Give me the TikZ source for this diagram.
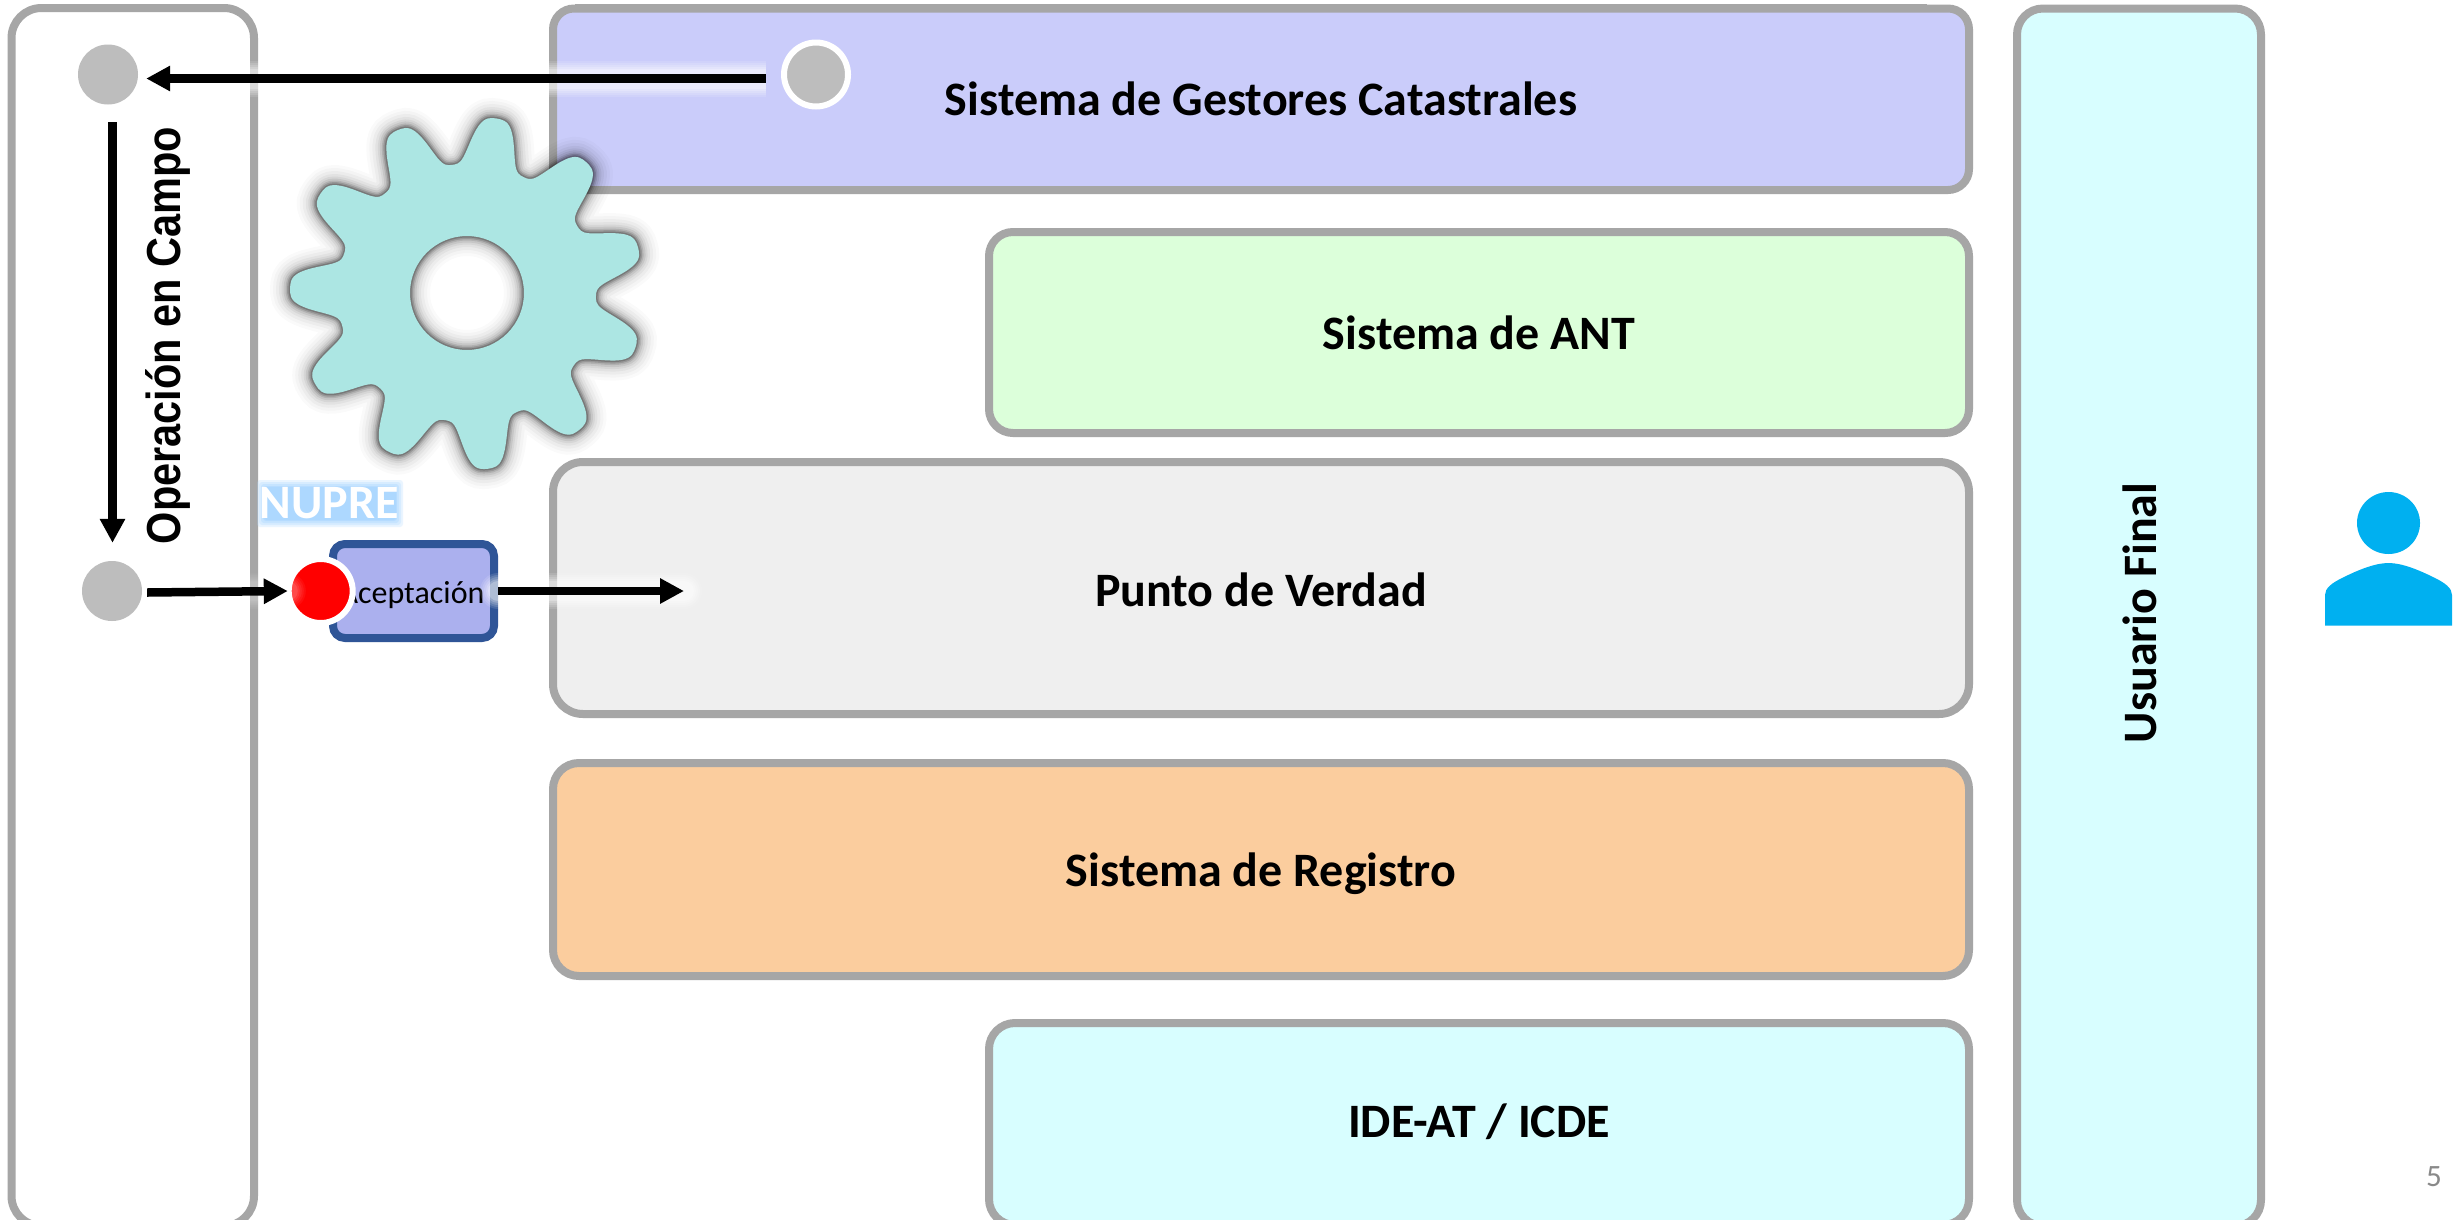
\documentclass[tikz,border=0pt]{standalone}
\usepackage{fontspec}
\setmainfont{Carlito}
\newfontfamily\arialfont{Liberation Sans}
\usetikzlibrary{arrows.meta}
\definecolor{edge}{HTML}{A6A6A6}
\definecolor{fillpurple}{HTML}{CACCFA}
\definecolor{fillgreen}{HTML}{DCFFDA}
\definecolor{fillgray}{HTML}{EFEFEF}
\definecolor{fillorange}{HTML}{FBCD9E}
\definecolor{fillcyan}{HTML}{D8FEFF}
\definecolor{circgray}{HTML}{BDBDBD}
\definecolor{gearteal}{HTML}{ACE6E3}
\definecolor{acceptfill}{HTML}{ABB0EE}
\definecolor{acceptedge}{HTML}{2F5597}
\definecolor{personblue}{HTML}{00B0F0}
\definecolor{nupreglow}{HTML}{ADD8FF}
\definecolor{pagegray}{HTML}{898989}
\tikzset{
  x=1pt,y=-1pt,
  declare function={
    gc(\t)=cos(11*(\t-80.3));
    rr(\t)=129+24*(1+gc(\t)*(1.42-0.42*gc(\t)*gc(\t)));
  },
  panel/.style={draw=edge,line width=8pt,rounded corners=#1},
  panel/.default=30pt,
  title/.style={font=\fontsize{48}{58}\selectfont\bfseries,text=black,inner sep=0pt},
  dotgray/.style={circle,fill=circgray,minimum size=60pt,inner sep=0pt},
  ringdot/.style={circle,draw=white,line width=6pt,minimum size=64pt,inner sep=0pt},
  flow/.style={line width=8.5pt,draw=black,-{Triangle[length=24pt,width=24pt]}},
}
\newcommand{\softhalo}[3]{%
  \foreach \w/\o in {36/0.12,32/0.14,28/0.16,24/0.2,20/0.25}{
    \draw[white,line width=\w pt,opacity=\o*#3,line cap=#2] #1;
  }
}
\newcommand{\gearpath}{
  plot[smooth,samples=265,domain=0:360,variable=\t]
   ({467+rr(\t)*cos(\t)},{293-rr(\t)*sin(\t)}) -- cycle
  (467,293) circle[radius=57]
}
\begin{document}
\begin{tikzpicture}
\useasboundingbox (0,0) rectangle (2463,1219);
\fill[white] (0,0) rectangle (2463,1219);

% panels
\draw[panel=30pt,fill=white] (11.5,8) rectangle (254,1226);
\fill[edge] (575,4) rectangle (1927,8);
\draw[panel=21pt,fill=fillpurple] (553,8.5) rectangle (1969,190);
\draw[panel=24pt,fill=fillgreen] (989,232) rectangle (1969,433);
\draw[panel=30pt,fill=fillgray] (553,462) rectangle (1969,714);
\draw[panel=26pt,fill=fillorange] (553,763) rectangle (1969,976);
\draw[panel=26pt,fill=fillcyan] (989,1023) rectangle (1969,1225);
\draw[panel=26pt,fill=fillcyan] (2017,8.5) rectangle (2261,1226);

\node[title] (gest) at (1261,99) {Sistema de Gestores Catastrales};
\node[title] (ant) at (1479,333) {Sistema de ANT};
\node[title] (punto) at (1261,590) {Punto de Verdad};
\node[title] (reg) at (1261,874) {Sistema de Registro};
\node[title] (ide) at (1479,1122) {IDE-AT / ICDE};
\node[title,rotate=90] (usu) at (2140,613) {Usuario Final};
\node[font=\arialfont\fontsize{41.5}{50}\selectfont\bfseries,inner sep=0pt,rotate=90,yscale=1.15,anchor=base] (oper) at (180,335.5) {Operación en Campo};

% gear with soft shadow
\foreach \w/\o in {40/0.02,34/0.025,28/0.03,22/0.04,17/0.05,13/0.07,9/0.1,6/0.15,3/0.2}{
  \draw[black,line width=\w pt,opacity=\o,even odd rule] \gearpath;
}
\fill[gearteal,even odd rule] \gearpath;

% NUPRE
\foreach \g/\o in {7/0.25,5/0.3,3/0.4,1/0.6,0/1}{
  \fill[nupreglow,opacity=\o,rounded corners=3pt] (264-\g,487-\g) rectangle (396+\g,520+\g);
}
\node[font=\fontsize{48}{58}\selectfont\bfseries,text=white,inner sep=0pt] (nupre) at (329,503) {NUPRE};

% accept box
\node[draw=acceptedge,fill=acceptfill,line width=8pt,rounded corners=12pt,
      minimum width=161pt,minimum height=94pt,inner sep=0pt] (acc) at (413.5,591) {};
\node[font=\fontsize{32}{38}\selectfont,inner sep=0pt,anchor=base] (acctext) at (412,603) {Aceptación};

% circles
\node[dotgray] (c1) at (108,74.5) {};
\node[dotgray] (c3) at (112,591) {};
\node[dotgray] (c2) at (816,74.5) {};
\node[ringdot] (c2r) at (816,74.5) {};
\node[circle,fill=red,minimum size=60pt,inner sep=0pt] (c4) at (320.7,591) {};
\node[ringdot] (c4r) at (320.7,591) {};

% named connector ends, placed from the nodes
\coordinate (a1s) at ([shift={(-20,4)}]c2.west);
\coordinate (a1e) at ([shift={(8,4)}]c1.east);
\coordinate (a2s) at ([shift={(4.5,17.5)}]c1.south);
\coordinate (a2e) at ([shift={(0.5,-18)}]c3.north);
\coordinate (a3s) at ([shift={(5,1.5)}]c3.east);
\coordinate (a3h) at ([shift={(25,1.5)}]c3.east);
\coordinate (a3e) at ([shift={(-2.7,0)}]c4.west);
\coordinate (a4e) at ([shift={(186,0)}]acc.east);

% halos
\softhalo{(a1s) -- (a1e)}{butt}{1}
\softhalo{(a3h) -- (a3e)}{round}{0.4}
\softhalo{(acc.east) -- (a4e)}{round}{1}

% arrows
\draw[flow] (a1s) -- (a1e);
\draw[flow] (a2s) -- (a2e);
\draw[flow] (a3s) -- (a3e);
\draw[flow] (acc.east) -- (a4e);

% person
\fill[personblue] (2388.5,523) ellipse[x radius=31.5,y radius=31];
\fill[personblue] (2325,625.5) -- (2325,595)
  .. controls (2325,588) and (2332,583) .. (2342,578)
  .. controls (2358,570) and (2375,563) .. (2388.5,563)
  .. controls (2402,563) and (2419,570) .. (2435,578)
  .. controls (2445,583) and (2452,588) .. (2452,595)
  -- (2452,625.5) -- cycle;

\node[font=\fontsize{31}{37}\selectfont,text=pagegray,inner sep=0pt] (pg) at (2434,1177) {5};
\end{tikzpicture}
\end{document}
